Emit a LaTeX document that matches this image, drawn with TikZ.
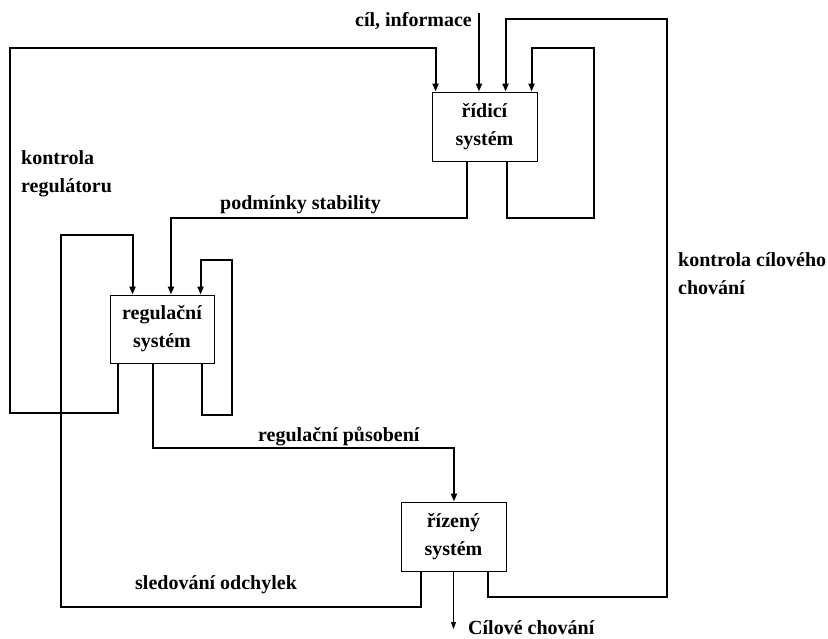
\documentclass[tikz,border=0pt]{standalone}
\usepackage{fontspec}
\setmainfont{Liberation Serif}
\usetikzlibrary{arrows.meta}
\begin{document}
\begin{tikzpicture}[x=1pt,y=-1pt,
  conn/.style={line width=2pt},
  arr/.style={conn,-{Triangle[length=8pt,width=6pt]}},
  sysbox/.style={draw,line width=0.9pt,minimum width=105pt,minimum height=69pt,inner sep=0pt,align=center,font=\fontsize{20}{28}\selectfont\bfseries},
  lbl/.style={inner sep=0pt,align=left,font=\fontsize{20}{28}\selectfont\bfseries}]
\useasboundingbox (0,0) rectangle (828,639);
% boxes
\node[sysbox] (R) at (484.5,126.5) {řídicí\\systém};
\node[sysbox,minimum width=104pt,minimum height=68pt] (G) at (162,329) {regulační\\systém};
\node[sysbox] (Z) at (453.5,536.5) {řízený\\systém};
% coordinates
\coordinate (cin) at (479,13);
\coordinate (k1) at (10,413);
\coordinate (k2) at (10,48);
\coordinate (p1) at (171,218);
\coordinate (s1) at (594,218);
\coordinate (s2) at (594,48);
\coordinate (c1) at (667,597);
\coordinate (c2) at (667,19);
\coordinate (l1) at (232,415);
\coordinate (l2) at (232,260);
\coordinate (r1) at (454,448);
\coordinate (o1) at (61,607);
\coordinate (o2) at (61,235);
\coordinate (out) at (453.5,629);
% connectors
\draw[arr] (cin) -- (cin |- R.north);
\draw[arr] ([xshift=8pt]G.south west) |- (k1) -- (k2) -| ([xshift=4pt]R.north west);
\draw[arr] ([xshift=35pt]R.south west) |- (p1) -- (p1 |- G.north);
\draw[arr] ([xshift=75pt]R.south west) |- (s1) -- (s2) -| ([xshift=100pt]R.north west);
\draw[arr] ([xshift=87pt]Z.south west) |- (c1) -- (c2) -| ([xshift=74pt]R.north west);
\draw[arr] ([xshift=92pt]G.south west) |- (l1) -- (l2) -| ([xshift=91pt]G.north west);
\draw[arr] ([xshift=43pt]G.south west) |- (r1) -- (r1 |- Z.north);
\draw[arr] ([xshift=20pt]Z.south west) |- (o1) -- (o2) -| ([xshift=23pt]G.north west);
\draw[line width=0.9pt,-{Triangle[length=7pt,width=5pt]}] (Z.south) -- (out);
% labels
\node[lbl,anchor=east] (tcil) at (472,21) {cíl, informace};
\node[lbl,anchor=west] (tkr) at (21,174) {kontrola\\regulátoru};
\node[lbl,anchor=west] (tps) at (220,205) {podmínky stability};
\node[lbl,anchor=west] (tkc) at (678,274) {kontrola cílového\\chování};
\node[lbl,anchor=west] (trp) at (258,436) {regulační působení};
\node[lbl,anchor=west] (tso) at (135,585) {sledování odchylek};
\node[lbl,anchor=west] (tcc) at (468,628) {Cílové chování};
\end{tikzpicture}
\end{document}
